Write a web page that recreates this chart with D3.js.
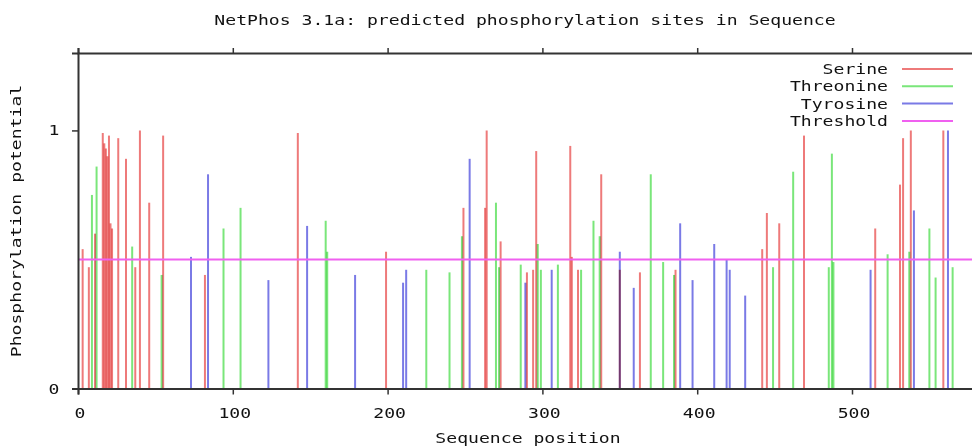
<!DOCTYPE html>
<html>
<head>
<meta charset="utf-8">
<script src="https://cdn.jsdelivr.net/npm/d3@7"></script>
<style>
  body { margin: 0; background: #fff; }
  text { font-family: "DejaVu Sans Mono", "Liberation Mono", monospace; fill: #111; }
</style>
</head>
<body>
<div id="chart"></div>
<script>
// [position, potential]
const serine = [
  [3, 0.54], [7, 0.47], [11, 0.60], [16, 0.99], [17, 0.95], [18, 0.93], [19, 0.90],
  [20, 0.98], [21, 0.64], [22, 0.62], [26, 0.97], [31, 0.89], [37, 0.47], [40, 1.0],
  [46, 0.72], [55, 0.98], [82, 0.44], [142, 0.99], [199, 0.53], [249, 0.70],
  [263, 0.70], [264, 1.0], [273, 0.57], [290, 0.45], [294, 0.46], [296, 0.92],
  [318, 0.94], [319, 0.51], [323, 0.46], [338, 0.83], [350, 0.46], [363, 0.45],
  [386, 0.46], [442, 0.54], [445, 0.68], [453, 0.64], [469, 0.98], [515, 0.62],
  [531, 0.79], [533, 0.97], [538, 1.0], [559, 1.0]
];
const threonine = [
  [9, 0.75], [12, 0.86], [35, 0.55], [54, 0.44], [94, 0.62], [105, 0.70],
  [160, 0.65], [161, 0.53], [225, 0.46], [240, 0.45], [248, 0.59], [270, 0.72],
  [272, 0.47], [286, 0.48], [297, 0.56], [299, 0.46], [310, 0.48], [325, 0.46],
  [333, 0.65], [337, 0.59], [370, 0.83], [378, 0.49], [385, 0.44], [449, 0.47],
  [462, 0.84], [485, 0.47], [487, 0.91], [488, 0.49], [523, 0.52], [537, 0.53],
  [550, 0.62], [554, 0.43], [565, 0.47]
];
const tyrosine = [
  [73, 0.51], [84, 0.83], [123, 0.42], [148, 0.63], [179, 0.44], [210, 0.41],
  [212, 0.46], [253, 0.89], [289, 0.41], [306, 0.46], [350, 0.53], [359, 0.39],
  [389, 0.64], [397, 0.42], [411, 0.56], [419, 0.50], [421, 0.46], [431, 0.36],
  [512, 0.46], [540, 0.69], [562, 1.0]
];
const threshold = 0.5;
const xTicks = [0, 100, 200, 300, 400, 500];
const yTicks = [0, 1];
const legendNames = ["Serine", "Threonine", "Tyrosine", "Threshold"];
const colors = ["#ee7a7a", "#7ae67a", "#7a7ae6", "#f060f0"];

const W = 972, H = 448;
const margin = {top: 53, right: 0, bottom: 60, left: 78};
const CH = 10.9; // stretched char width of the bitmap font

const x = d3.scaleLinear().domain([0, 580]).range([margin.left, margin.left + 580 * 1.548]);
const y = d3.scaleLinear().domain([0, 1.3]).range([388.5, margin.top]);

const svg = d3.select("#chart").append("svg")
    .attr("width", W)
    .attr("height", H);

function label(t, px, py, anchor) {
    return svg.append("text")
        .attr("x", px).attr("y", py)
        .attr("text-anchor", anchor || "middle")
        .attr("font-size", 13.5)
        .attr("textLength", t.length * CH)
        .attr("lengthAdjust", "spacingAndGlyphs")
        .text(t);
}

// impulses
const bars = svg.append("g").style("isolation", "isolate");
[serine, threonine, tyrosine].forEach(function(series, i) {
    bars.selectAll(null)
        .data(series)
        .enter().append("line")
        .attr("x1", d => x(d[0])).attr("x2", d => x(d[0]))
        .attr("y1", y(0)).attr("y2", d => y(d[1]))
        .attr("stroke", colors[i])
        .attr("stroke-width", 2)
        .style("mix-blend-mode", "multiply");
});

svg.append("line")
    .attr("x1", x(0)).attr("x2", W)
    .attr("y1", y(threshold)).attr("y2", y(threshold))
    .attr("stroke", colors[3])
    .attr("stroke-width", 2);

// axes
const axisCol = "#333";
svg.append("g")
    .attr("transform", "translate(0," + y(0) + ")")
    .call(d3.axisBottom(x).tickValues(xTicks).tickSize(6).tickFormat(""))
    .call(g => g.select(".domain").attr("stroke", axisCol).attr("stroke-width", 2));
svg.append("g")
    .attr("transform", "translate(0," + y(1.3) + ")")
    .call(d3.axisTop(x).tickValues(xTicks).tickSize(5).tickFormat(""))
    .call(g => g.select(".domain").attr("stroke", axisCol).attr("stroke-width", 2));
svg.append("g")
    .attr("transform", "translate(" + x(0) + ",0)")
    .call(d3.axisLeft(y).tickValues(yTicks).tickSize(6).tickFormat(""))
    .call(g => g.select(".domain").attr("stroke", axisCol).attr("stroke-width", 2));
svg.selectAll(".tick line").attr("stroke", axisCol).attr("stroke-width", 1.5);

xTicks.forEach(function(t) { label(String(t), x(t) + 2, 418); });
yTicks.forEach(function(t) { label(String(t), 54, y(t) + 5); });

label("NetPhos 3.1a: predicted phosphorylation sites in Sequence", 525, 25);
label("Sequence position", 528, 443);
label("Phosphorylation potential", 0, 0)
    .attr("transform", "translate(21,221) rotate(-90)");

// legend
legendNames.forEach(function(n, i) {
    const ly = 69 + i * 17.3;
    label(n, 888, ly + 5, "end");
    svg.append("line")
        .attr("x1", 902).attr("x2", 953)
        .attr("y1", ly).attr("y2", ly)
        .attr("stroke", colors[i])
        .attr("stroke-width", 2);
});
</script>
</body>
</html>
